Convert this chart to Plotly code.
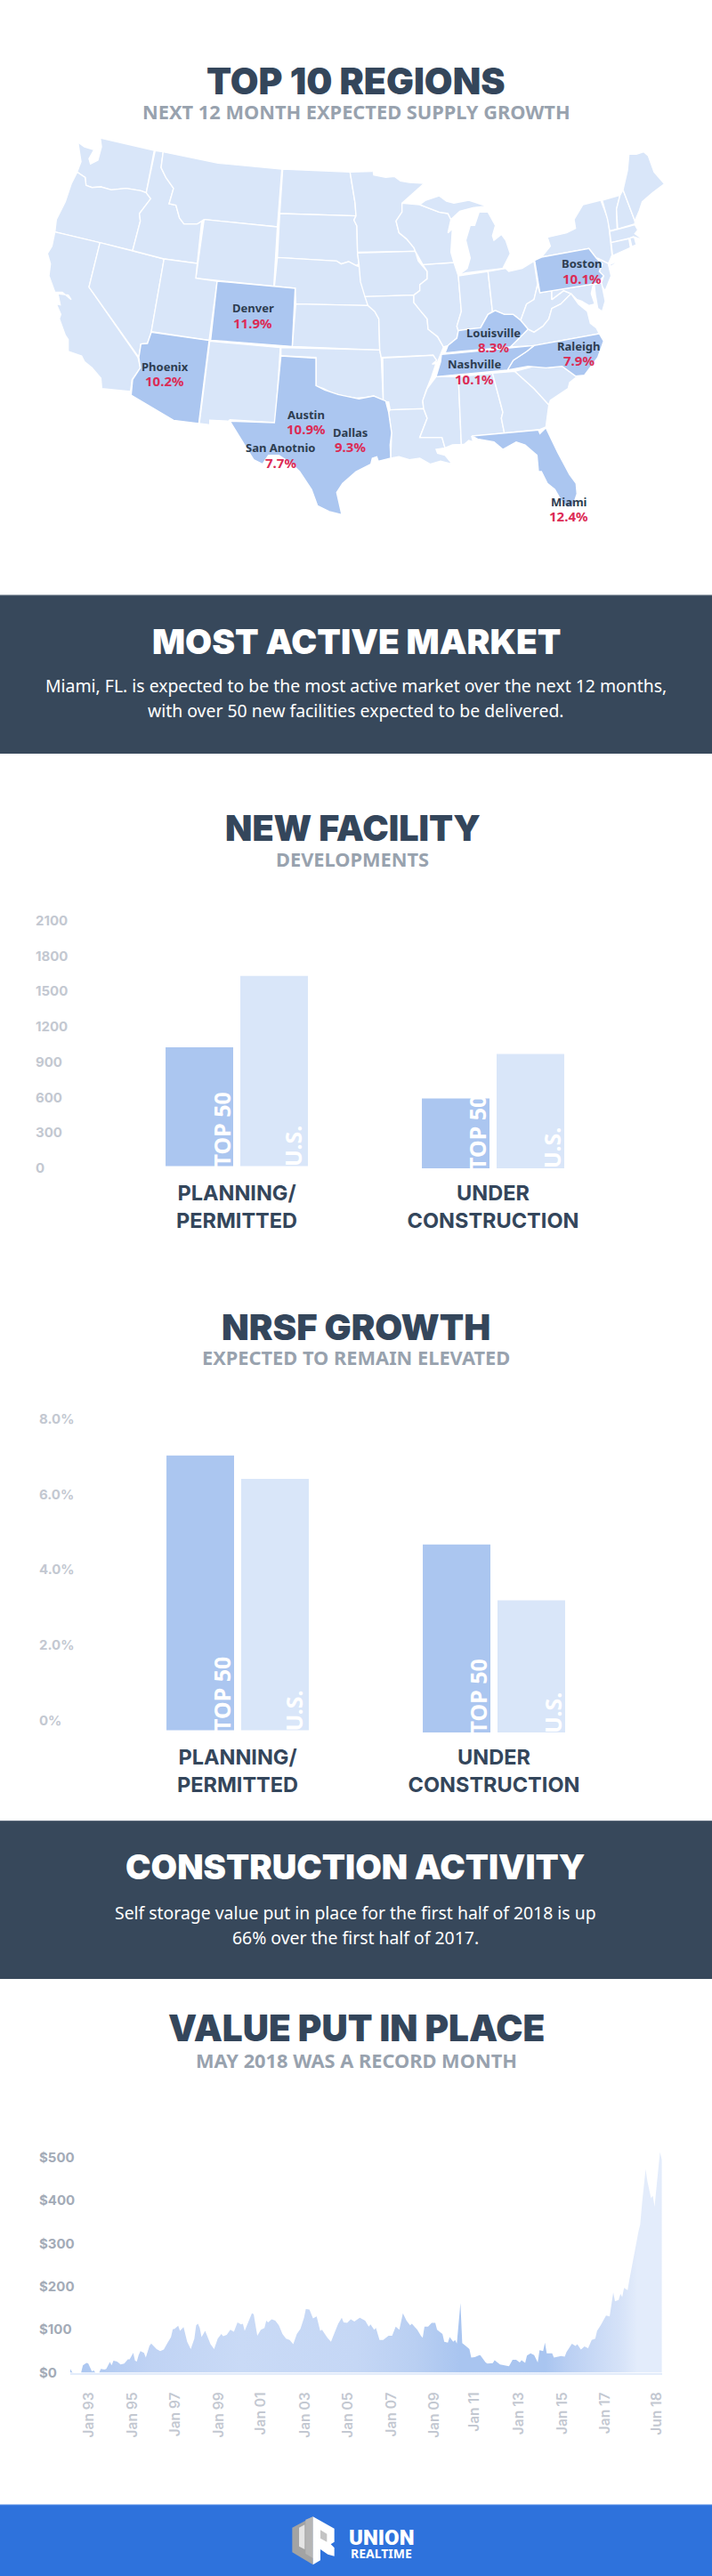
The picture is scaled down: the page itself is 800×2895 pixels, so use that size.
import plotly.graph_objects as go

W, H = 800, 2895

# ---------- map outlines (map units) ----------
WA = [(203,15),(385,57),(358,200),(340,193),(290,185),(240,190),(205,180),(175,182),(155,175),(152,148),(125,130),(138,95),(128,30),(150,45),(182,55),(165,85),(170,103),(195,90),(207,45)]
OR = [(125,130),(152,148),(155,175),(175,182),(205,180),(240,190),(290,185),(340,193),(358,200),(373,220),(335,270),(338,295),(312,395),(202,368),(50,332),(55,290),(85,230),(105,170)]
CA = [(50,332),(202,368),(165,518),(330,755),(338,790),(310,830),(305,870),(208,860),(205,825),(175,790),(150,770),(140,750),(95,735),(95,695),(85,680),(65,625),(70,610),(55,575),(68,578),(60,540),(95,545),(105,560),(75,535),(50,535),(30,480),(35,440),(25,405),(40,380)]
NV = [(202,368),(418,423),(375,670),(362,708),(340,710),(333,755),(165,518)]
ID = [(388,58),(415,62),(408,115),(425,150),(450,185),(435,237),(458,242),(470,285),(485,305),(530,305),(545,295),(530,438),(418,423),(312,395),(338,295),(335,270),(373,220),(358,200)]
MT = [(415,62),(600,100),(815,120),(800,315),(553,290),(545,295),(530,305),(485,305),(470,285),(458,242),(435,237),(450,185),(425,150),(408,115)]
WY = [(553,290),(800,315),(788,515),(525,488)]
UT = [(418,423),(530,438),(525,488),(597,498),(570,697),(375,668)]
CO = [(597,498),(860,522),(850,718),(575,697)]
AZ = [(375,670),(570,698),(535,978),(450,967),(307,882),(312,830),(338,790),(333,755),(340,710),(362,708)]
NM = [(572,700),(810,722),(793,975),(640,965),(635,970),(572,967),(572,982),(537,978)]
ND = [(818,120),(1045,130),(1053,180),(1062,235),(1065,278),(808,270)]
SD = [(808,270),(1065,278),(1058,292),(1068,312),(1070,400),(1075,440),(1065,445),(1040,432),(1015,440),(1000,430),(800,418)]
NE = [(800,418),(1000,430),(1015,440),(1040,432),(1065,445),(1078,450),(1085,500),(1100,540),(1105,580),(862,575),(860,522),(790,515)]
KS = [(862,575),(1105,580),(1128,600),(1142,625),(1145,730),(850,718)]
OK = [(812,722),(1145,730),(1150,755),(1157,905),(1125,885),(1095,890),(1065,892),(1020,885),(985,875),(955,860),(930,852),(930,755),(812,750)]
TX = [(812,750),(930,758),(930,850),(960,865),(1005,880),(1075,895),(1125,885),(1165,902),(1175,940),(1185,1010),(1180,1050),(1182,1095),(1140,1105),(1135,1090),(1120,1095),(1115,1115),(1065,1140),(1020,1180),(1000,1210),(1005,1235),(1017,1285),(975,1275),(935,1255),(915,1200),(875,1140),(850,1115),(805,1085),(770,1085),(750,1115),(720,1100),(690,1050),(640,970),(790,975)]
MN = [(1045,130),(1118,128),(1120,112),(1125,140),(1165,148),(1195,145),(1215,160),(1245,165),(1295,168),(1255,205),(1220,235),(1220,265),(1200,295),(1210,335),(1235,355),(1260,385),(1265,397),(1070,400),(1068,312),(1058,292),(1065,278),(1062,235),(1053,180)]
IA = [(1070,403),(1265,397),(1275,430),(1305,465),(1305,490),(1280,510),(1280,530),(1260,545),(1095,550),(1080,500),(1075,440)]
MO = [(1095,550),(1260,545),(1260,570),(1280,595),(1305,625),(1308,660),(1340,685),(1360,720),(1350,745),(1340,770),(1322,775),(1335,765),(1325,748),(1150,755),(1145,730),(1142,625),(1128,600),(1105,580)]
AR = [(1155,757),(1325,748),(1337,765),(1322,778),(1335,775),(1320,820),(1300,870),(1290,905),(1293,928),(1180,932),(1175,905),(1157,905)]
LA = [(1180,932),(1293,928),(1305,960),(1280,1025),(1355,1025),(1365,1060),(1335,1065),(1340,1078),(1365,1085),(1390,1115),(1350,1105),(1315,1115),(1280,1095),(1245,1100),(1210,1090),(1182,1095),(1185,1010),(1175,940)]
MS = [(1335,820),(1305,860),(1290,900),(1293,928),(1305,960),(1280,1025),(1355,1025),(1365,1060),(1390,1050),(1420,1048),(1410,820)]
AL = [(1410,820),(1525,808),(1560,940),(1555,960),(1565,1010),(1455,1022),(1460,1040),(1445,1035),(1430,1048),(1420,1048)]
GA = [(1525,808),(1600,802),(1665,860),(1715,915),(1705,990),(1685,998),(1565,1010),(1555,960),(1560,940)]
FL = [(1455,1020),(1565,1010),(1680,1000),(1685,1012),(1705,992),(1745,1075),(1785,1150),(1807,1180),(1810,1215),(1795,1260),(1775,1260),(1755,1235),(1735,1200),(1710,1180),(1690,1140),(1680,1140),(1675,1085),(1635,1050),(1605,1040),(1560,1065),(1530,1040),(1475,1030)]
SC = [(1600,802),(1665,785),(1705,778),(1715,790),(1760,785),(1810,820),(1785,840),(1780,860),(1720,900),(1715,915),(1665,860)]
NC = [(1665,715),(1885,675),(1900,700),(1880,755),(1835,815),(1805,818),(1760,785),(1705,790),(1645,785),(1575,798),(1595,765),(1640,735)]
TN = [(1353,745),(1665,715),(1640,735),(1595,765),(1575,798),(1335,820),(1350,770)]
KY = [(1365,740),(1375,715),(1405,690),(1410,665),(1440,660),(1485,655),(1510,610),(1535,597),(1565,610),(1595,610),(1620,630),(1645,660),(1610,695),(1585,720),(1415,735)]
IL = [(1290,442),(1395,435),(1410,480),(1420,600),(1405,650),(1410,665),(1405,690),(1375,715),(1360,720),(1340,685),(1308,660),(1305,625),(1280,595),(1260,570),(1260,545),(1280,530),(1280,510),(1305,490),(1305,465)]
WI = [(1220,235),(1280,240),(1345,265),(1375,270),(1385,290),(1375,335),(1390,320),(1385,400),(1395,435),(1290,442),(1265,397),(1260,385),(1235,355),(1210,335),(1200,295),(1220,265)]
MI_L = [(1410,478),(1435,470),(1560,455),(1585,405),(1570,360),(1555,340),(1530,360),(1525,345),(1535,310),(1510,265),(1480,265),(1465,310),(1450,310),(1435,360),(1450,420),(1440,455)]
MI_U = [(1280,240),(1300,225),(1345,210),(1370,228),(1395,235),(1445,225),(1505,245),(1460,250),(1415,262),(1385,290),(1375,270),(1345,265)]
IN = [(1410,480),(1510,465),(1525,600),(1510,610),(1485,655),(1440,660),(1410,665),(1405,650),(1420,600)]
OH = [(1510,465),(1570,455),(1580,465),(1625,455),(1665,430),(1677,510),(1665,560),(1640,575),(1620,630),(1595,610),(1565,610),(1535,597),(1525,600)]
PA = [(1667,428),(1690,417),(1850,388),(1875,420),(1895,440),(1885,465),(1900,480),(1880,505),(1685,537)]
NY = [(1690,417),(1720,380),(1710,350),(1775,335),(1805,320),(1800,290),(1830,240),(1890,225),(1915,290),(1928,410),(1915,440),(1895,440),(1875,420),(1850,388)]
LI = [(1920,442),(1960,425),(1925,448)]
NJ = [(1878,420),(1915,438),(1925,480),(1905,530),(1890,510),(1900,480),(1885,465),(1895,440)]
VT = [(1895,225),(1955,208),(1943,255),(1945,322),(1920,328),(1913,290)]
NH = [(1955,208),(1965,190),(2005,295),(2005,305),(1947,322),(1943,255)]
ME = [(1965,190),(1980,125),(1985,70),(2010,70),(2035,62),(2050,75),(2070,130),(2105,170),(2065,200),(2030,230),(2020,260),(2005,295)]
MA = [(1920,330),(2005,308),(2015,325),(2005,338),(2035,360),(2000,348),(1990,352),(1925,368)]
CT = [(1925,368),(1985,355),(1990,385),(1930,412)]
RI = [(1988,352),(2003,350),(2010,375),(1995,382)]
WV = [(1677,510),(1685,537),(1725,530),(1725,560),(1765,530),(1790,540),(1755,575),(1725,590),(1715,625),(1695,650),(1665,670),(1645,660),(1620,630),(1640,575),(1665,560)]
MD = [(1725,530),(1865,507),(1858,540),(1870,575),(1850,580),(1825,565),(1810,560),(1790,540),(1765,530),(1725,560)]
DELMARVA = [(1868,510),(1880,505),(1893,505),(1905,565),(1895,600),(1880,590),(1872,545)]
VA = [(1610,695),(1645,660),(1665,670),(1695,650),(1715,625),(1725,590),(1755,575),(1790,540),(1815,575),(1845,600),(1855,640),(1875,655),(1885,675),(1665,715),(1585,720)]

PLAIN_STATES = [WA, OR, CA, NV, ID, MT, WY, UT, NM, ND, SD, NE, KS, OK, MN, IA, MO, AR, LA, MS, AL, GA, SC,
                IL, WI, MI_L, MI_U, IN, OH, NY, LI, NJ, VT, NH, ME, MA, CT, RI, WV, MD, DELMARVA, VA]
TOP_STATES = [CO, AZ, TX, FL, NC, TN, KY, PA]

# ---------- map labels ----------
CITIES = ["Denver", "Phoenix", "Austin", "Dallas", "San Anotnio", "Boston", "Louisville", "Nashville", "Raleigh", "Miami"]
GROWTH = ["11.9%", "10.2%", "10.9%", "9.3%", "7.7%", "10.1%", "8.3%", "10.1%", "7.9%", "12.4%"]
CITY_CENTRE = [(284,346),(185,412),(344,466),(393,486),(315,503),(654,296),(554,374),(533,409),(650,389),(639,564)]

# ---------- bar charts ----------
BAR_GROUPS = ["PLANNING/<br>PERMITTED", "UNDER<br>CONSTRUCTION"]
FAC_TOP50 = [1025, 592]
FAC_US = [1631, 969]
FAC_FLOOR = [19, 0]
FAC_TICKS = [0, 300, 600, 900, 1200, 1500, 1800, 2100]
NRSF_TOP50 = [7.03, 4.67]
NRSF_US = [6.41, 3.19]
NRSF_FLOOR = [-0.25, -0.31]
NRSF_TICKS = [0, 2, 4, 6, 8]
NRSF_TICKTEXT = ["0%", "2.0%", "4.0%", "6.0%", "8.0%"]

# ---------- value put in place (month index, $) ----------
MONTHS = [0,1,2,6,7,8,9,10,11,12,13,14,16,17,19,20,22,23,24,26,28,30,32,33,35,36,37,38,39,41,42,44,45,48,50,52,54,56,57,58,60,61,63,64,65,67,68,69,70,71,72,73,75,77,78,80,82,84,85,87,89,91,93,95,96,97,99,101,102,103,104,106,108,109,
          110,112,114,116,118,120,122,124,126,128,130,131,133,135,137,139,140,143,145,147,149,151,152,154,156,158,161,164,166,167,169,170,172,174,177,179,181,183,185,187,189,190,193,195,196,197,199,201,203,204,207,208,210,211,213,214,215,217,218,220,222,
          223,225,227,228,231,232,235,236,239,243,244,246,248,250,251,253,254,256,258,260,261,263,264,265,268,269,272,273,275,276,279,281,282,284,286,288,290,292,293,295,298,300,301,302,303,305,306,307,308,310,311,313,314,316,317,318,319,320,321,323,324,325,326,327,328,329]
VALUES = [9,1,0,0,17,21,23,21,10,3,5,0,0,9,7,9,25,17,28,26,19,21,31,31,46,28,26,41,50,46,35,62,68,55,50,54,69,83,101,102,109,97,106,90,72,55,69,79,110,114,104,83,97,78,66,55,79,90,85,88,100,95,117,112,114,97,117,138,136,110,86,100,104,121,
          117,124,121,110,90,79,76,66,90,102,128,148,147,126,131,97,100,81,72,93,114,128,117,116,124,119,128,121,107,112,100,104,76,76,86,86,107,100,138,121,110,114,100,86,81,107,107,116,116,100,90,72,70,83,72,76,68,162,69,62,55,
          35,36,40,41,24,21,22,29,19,17,15,30,30,24,29,23,40,45,41,24,52,50,70,45,45,35,37,39,37,48,67,62,66,54,61,57,76,79,97,110,133,131,159,186,166,169,183,176,197,192,217,266,283,328,345,393,440,473,445,406,411,386,430,480,513,495]
AREA_TICK_POS = [10.6,34.7,58.6,82.7,105.8,130.8,154.6,178.6,202.5,224.6,249.4,273.7,297.4,326.2]
AREA_TICK_TEXT = ["Jan 93","Jan 95","Jan 97","Jan 99","Jan 01","Jan 03","Jan 05","Jan 07","Jan 09","Jan 11","Jan 13","Jan 15","Jan 17","Jun 18"]
DOLLAR_TICKS = [0,100,200,300,400,500]
DOLLAR_TEXT = ["$0","$100","$200","$300","$400","$500"]

# ---------- style ----------
NAVY = "#34465b"
BAND = "#37485b"
SUB = "#98a2ae"
LIGHT = "#d9e6f9"
MID = "#abc6f0"
TICK = "#c3c8d1"
RED = "#dc2b55"
DEEP = "#2e72dc"
HEAD = "Inter"
BODY = "Noto Sans"

def px(x): return x / W
def py(y): return 1 - y / H

anns = []
def T(x, y, text, size, color, family=BODY, weight=400, angle=0):
    anns.append(dict(x=px(x), y=py(y), xref="paper", yref="paper", text=text, showarrow=False,
                     xanchor="center", yanchor="middle", textangle=angle,
                     font=dict(family=family, size=size, color=color, weight=weight)))

fig = go.Figure()

# map
for group, col in ((PLAIN_STATES, LIGHT), (TOP_STATES, MID)):
    for st in group:
        xs = [p[0] for p in st] + [st[0][0]]
        ys = [p[1] for p in st] + [st[0][1]]
        fig.add_trace(go.Scatter(x=xs, y=ys, mode="lines", fill="toself", fillcolor=col,
                                 line=dict(color="white", width=1.4), hoverinfo="skip",
                                 showlegend=False, xaxis="x", yaxis="y"))

# bars
def bars(top, us, floor, xa, ya):
    for vals, col in ((top, MID), (us, LIGHT)):
        fig.add_trace(go.Bar(x=BAR_GROUPS, y=[v - f for v, f in zip(vals, floor)], base=floor,
                             marker=dict(color=col, line=dict(width=0)), showlegend=False,
                             hoverinfo="skip", xaxis=xa, yaxis=ya))
bars(FAC_TOP50, FAC_US, FAC_FLOOR, "x2", "y2")
bars(NRSF_TOP50, NRSF_US, NRSF_FLOOR, "x3", "y3")

# area
fig.add_trace(go.Scatter(x=MONTHS, y=VALUES, mode="lines", fill="tozeroy", line=dict(width=0, color="#d9e6f9"),
                         fillgradient=dict(type="horizontal", start=0, stop=329,
                             colorscale=[[0,"#a9c5f0"],[0.137,"#c0d3f4"],[0.287,"#c9daf6"],[0.483,"#c5d7f5"],
                                         [0.583,"#b9cff2"],[0.659,"#a9c5f0"],[0.803,"#a9c5f0"],[0.844,"#bbd0f3"],
                                         [0.929,"#d5e2f8"],[0.959,"#e3ecfb"],[1,"#e3ecfb"]]),
                         hoverinfo="skip", showlegend=False, xaxis="x4", yaxis="y4"))

# text
TITLE_W = 900
for x, y, t, s in [(399.5, 90.5, "TOP 10 REGIONS", 41), (396, 931.5, "NEW FACILITY", 39.5), (400, 1491, "NRSF GROWTH", 40), (400, 2279, "VALUE PUT IN PLACE", 40.5)]:
    T(x, y, t, s, NAVY, HEAD, TITLE_W)
for x, y, t, s in [(400, 720, "MOST ACTIVE MARKET", 38.8), (399, 2098, "CONSTRUCTION ACTIVITY", 38.2)]:
    T(x, y, t, s, "white", HEAD, TITLE_W)
for x, y, t in [(400.5, 125, "NEXT 12 MONTH EXPECTED SUPPLY GROWTH"), (396, 966, "DEVELOPMENTS"),
                (400, 1525, "EXPECTED TO REMAIN ELEVATED"), (400, 2315, "MAY 2018 WAS A RECORD MONTH")]:
    T(x, y, t, 21.8, SUB, BODY, 700)
for x, y, t in [(400, 771, "Miami, FL. is expected to be the most active market over the next 12 months,"),
                (400, 799, "with over 50 new facilities expected to be delivered."),
                (399, 2149, "Self storage value put in place for the first half of 2018 is up"),
                (399, 2177, "66% over the first half of 2017.")]:
    T(x, y, t, 19.4, "white", BODY, 400)

for name, val, (x, y) in zip(CITIES, GROWTH, CITY_CENTRE):
    T(x, y, name, 13, "#2d3d50", BODY, 700)
    T(x, y + 16.5, val, 15, RED, BODY, 700)

for x, y, t in [(248, 1269.5, "TOP 50"), (535.5, 1273.5, "TOP 50"), (249, 1904, "TOP 50"), (536.5, 1907, "TOP 50")]:
    T(x, y, t, 25, "white", BODY, 700, -90)
for x, y, t in [(329, 1288, "U.S."), (620, 1290, "U.S."), (330, 1922.6, "U.S."), (621, 1925, "U.S.")]:
    T(x, y, t, 25, "white", BODY, 700, -90)

T(428, 2851.5, "UNION", 24, "white", "Roboto", 900)
T(428, 2869, "REALTIME", 14, "white", BODY, 700)

# background bands and logo
shapes = []
for y0, y1, col, edge in [(669, 847, BAND, "#5d6b7c"), (2046.5, 2224, BAND, "#5d6b7c"), (2815, 2895, DEEP, "#5a90e6")]:
    shapes.append(dict(type="rect", xref="paper", yref="paper", x0=0, x1=1, y0=py(y1), y1=py(y0),
                       fillcolor=col, line=dict(width=0), layer="below"))
    shapes.append(dict(type="line", xref="paper", yref="paper", x0=0, x1=1, y0=py(y0), y1=py(y0),
                       line=dict(color=edge, width=1), layer="below"))

def logo(pts, col):
    path = "M" + "L".join(f"{px(310 + a / 3):.5f},{py(2800 + b / 3):.5f}" for a, b in pts) + "Z"
    shapes.append(dict(type="path", xref="paper", yref="paper", path=path, fillcolor=col, line=dict(width=0), layer="above"))
logo([(55,122),(125,85),(125,247),(55,205)], "#a3a3a3")
logo([(78,122),(97,112),(97,195),(78,185)], "#e4e4e4")
logo([(100,95),(125,85),(125,225),(100,210)], "#b5b5b5")
logo([(125,85),(197,125),(197,170),(185,178),(197,190),(197,218),(175,212),(150,195),(150,232),(125,247)], "white")
logo([(150,130),(172,143),(172,170),(150,158)], "#c4c4c4")

def yaxis_common(dom):
    return dict(domain=dom, showgrid=False, zeroline=False, showline=False, ticks="", fixedrange=True)

bar_tick_font = dict(family=HEAD, size=23.5, color=NAVY, weight=700)
small = dict(family=HEAD, size=15, color=TICK, weight=700)

fig.update_layout(
    width=W, height=H, margin=dict(l=0, r=0, t=0, b=0, autoexpand=False),
    paper_bgcolor="white", plot_bgcolor="rgba(0,0,0,0)", barmode="group", bargap=0.417, bargroupgap=0.095,
    showlegend=False, annotations=anns, shapes=shapes,
    # map
    xaxis=dict(domain=[45/W, 755/W], range=[0, 2130], visible=False, fixedrange=True),
    yaxis=dict(domain=[py(590), py(150)], range=[1320, 0], visible=False, fixedrange=True),
    # facilities
    xaxis2=dict(domain=[122/W, 698/W], range=[-0.5, 1.5], type="category", anchor="y2", showgrid=False, showline=False, zeroline=False,
                ticks="outside", ticklen=7, tickcolor="rgba(0,0,0,0)", tickfont=bar_tick_font, fixedrange=True, tickangle=0),
    yaxis2=dict(**yaxis_common([py(1313), py(1034.5)]), range=[0, 2100], side="right", anchor="free", position=39/W,
                tickvals=FAC_TICKS, tickfont=small),
    # NRSF
    xaxis3=dict(domain=[123/W, 699/W], range=[-0.5, 1.5], type="category", anchor="y3", showgrid=False, showline=False, zeroline=False,
                ticks="outside", ticklen=7, tickcolor="rgba(0,0,0,0)", tickfont=bar_tick_font, fixedrange=True, tickangle=0),
    yaxis3=dict(**yaxis_common([py(1947), py(1594.6)]), range=[-0.31, 8], side="right", anchor="free", position=43/W,
                tickvals=NRSF_TICKS, ticktext=NRSF_TICKTEXT, tickfont=small),
    # value put in place
    xaxis4=dict(domain=[79/W, 744/W], range=[0, 329.2], anchor="y4", showgrid=False, zeroline=False, showline=True,
                linecolor="#e3ecfb", linewidth=1.5, tickvals=AREA_TICK_POS, ticktext=AREA_TICK_TEXT, tickangle=-90,
                ticks="outside", ticklen=14, tickcolor="rgba(0,0,0,0)", tickfont=dict(family=HEAD, size=15.5, color=TICK, weight=600),
                fixedrange=True),
    yaxis4=dict(**yaxis_common([py(2666.5), py(2405)]), range=[0, 541], side="right", anchor="free", position=43/W,
                tickvals=DOLLAR_TICKS, ticktext=DOLLAR_TEXT, tickfont=dict(family=HEAD, size=15, color="#a3abb7", weight=700)),
)

fig.write_html("out.html", config=dict(displayModeBar=False), default_width="800px", default_height="2895px",
               post_script="document.body.style.margin='0';document.documentElement.style.margin='0';")
